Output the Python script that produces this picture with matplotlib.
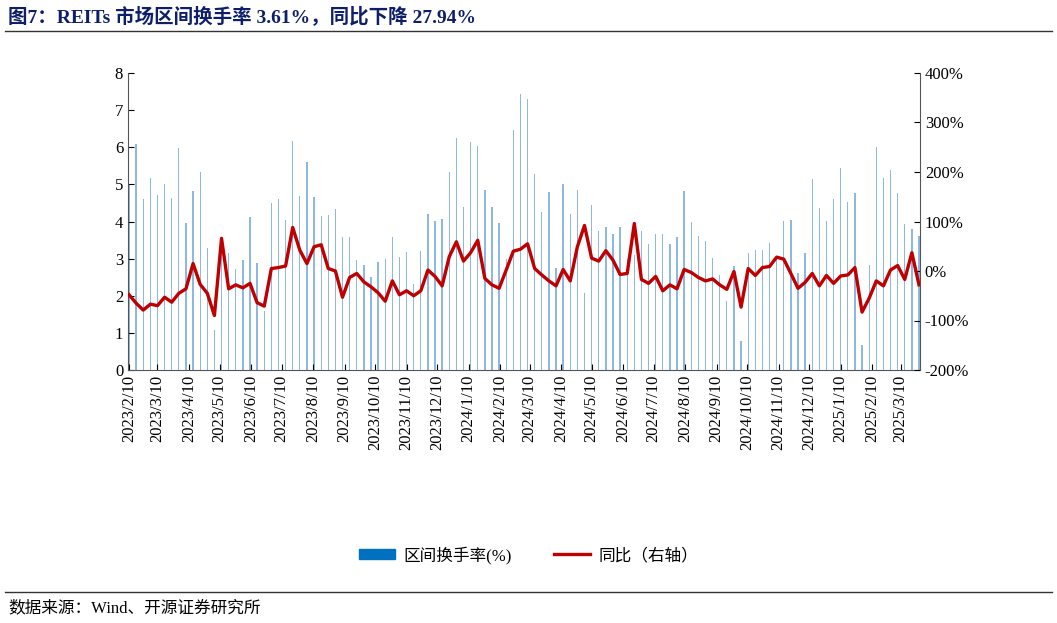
import numpy as np
import pandas as pd
import matplotlib
matplotlib.use("Agg")
import matplotlib.pyplot as plt
import matplotlib.patches as mpatches
from matplotlib.lines import Line2D
from matplotlib.ticker import FuncFormatter

plt.rcParams["font.family"] = ["Liberation Serif", "Noto Sans CJK SC"]

# ── Data (weekly, from 2023/2/10) ────────────────────────────────────────────
start_date = "2023-02-10"
turnover = [
    5.00, 6.08, 4.60, 5.16, 4.71, 5.00, 4.64, 5.99, 3.97, 4.82,
    5.33, 3.29, 1.08, 3.55, 3.14, 2.72, 2.96, 4.13, 2.89, 1.58,
    4.50, 4.60, 4.04, 6.18, 4.70, 5.59, 4.66, 4.16, 4.17, 4.35,
    3.58, 3.58, 2.95, 2.82, 2.50, 2.90, 2.99, 3.58, 3.04, 3.19,
    2.32, 3.20, 4.20, 4.01, 4.07, 5.34, 6.26, 4.38, 6.15, 6.03,
    4.85, 4.40, 3.97, 3.00, 6.47, 7.43, 7.30, 5.28, 4.25, 4.79,
    2.76, 5.01, 4.21, 4.85, 2.08, 4.44, 3.74, 3.85, 3.65, 3.84,
    3.00, 3.11, 3.74, 3.40, 3.65, 3.67, 3.39, 3.58, 4.82, 3.98,
    3.60, 3.47, 3.02, 2.57, 1.87, 2.80, 0.78, 3.16, 3.23, 3.24,
    3.43, 3.00, 4.01, 4.04, 2.60, 3.16, 5.14, 4.37, 4.01, 4.61,
    5.45, 4.52, 4.78, 0.66, 2.83, 6.01, 5.16, 5.39, 4.78, 3.93,
    3.80, 3.61,
]
yoy_pct = [
    -48, -65, -79, -67, -70, -53, -63, -45, -36, 15,
    -27, -45, -90, 66, -36, -28, -34, -25, -64, -71,
    5, 7, 10, 88, 42, 15, 49, 53, 5, 0,
    -53, -13, -5, -22, -32, -44, -61, -20, -48, -40,
    -50, -40, 2, -11, -30, 29, 59, 20, 37, 62,
    -15, -28, -35, 2, 40, 44, 55, 5, -8, -20,
    -30, 3, -20, 49, 92, 26, 20, 41, 22, -7,
    -5, 96, -17, -25, -11, -40, -28, -36, 3, -3,
    -13, -20, -16, -28, -37, -1, -73, 5, -9, 7,
    9, 28, 24, -5, -35, -23, -5, -30, -9, -25,
    -10, -8, 7, -83, -55, -20, -30, 2, 11, -17,
    37, -27.94,
]
dates = pd.date_range(start_date, periods=len(turnover), freq="7D")
tick_dates = pd.date_range("2023-02-01", "2025-03-01", freq="MS") + pd.Timedelta(days=9)

BAR_C = "#5B9BD5"
LINE_C = "#C00000"

fig = plt.figure(figsize=(10.57, 6.23), dpi=100)
ax = fig.add_axes([128 / 1057, 1 - 370 / 623, 792 / 1057, 297 / 623])
ax2 = ax.twinx()

ax.bar(dates, turnover, width=1.3, color=BAR_C, alpha=0.7, linewidth=0)
ax2.plot(dates, yoy_pct, color=LINE_C, linewidth=2.4)

ax.set_ylim(0, 8)
ax.set_yticks(range(0, 9))
ax2.set_ylim(-200, 400)
ax2.set_yticks(range(-200, 401, 100))
ax2.yaxis.set_major_formatter(FuncFormatter(lambda v, p: f"{int(v)}%"))
ax.set_xlim(dates[0] - pd.Timedelta(days=1), dates[-1] + pd.Timedelta(days=1))
ax.set_xticks(tick_dates)
ax.set_xticklabels([f"{d.year}/{d.month}/{d.day}" for d in tick_dates],
                   rotation=90, fontsize=12)
for a in (ax, ax2):
    a.spines["top"].set_visible(False)
    a.tick_params(labelsize=12, direction="in", length=4)
ax.spines["right"].set_visible(False)
for s in ("left", "bottom"):
    ax.spines[s].set_color("#555555")
ax2.spines["right"].set_color("#555555")
ax2.spines["left"].set_visible(False)
ax2.spines["bottom"].set_visible(False)

# Legend
handles = [mpatches.Patch(color="#0070C0", label="区间换手率(%)"),
           Line2D([0], [0], color=LINE_C, linewidth=2.4, label="同比（右轴）")]
fig.legend(handles=handles, loc="center", bbox_to_anchor=(0.5, 1 - 555 / 623),
           ncol=2, frameon=False, fontsize=12, handlelength=2.2, handleheight=0.6,
           handletextpad=0.5, columnspacing=2.5)

# Title and source
fig.text(8 / 1057, 1 - 16 / 623, "图7：REITs 市场区间换手率 3.61%，同比下降 27.94%",
         fontsize=14, fontweight="bold", color="#0D1F6B", va="center")
fig.add_artist(Line2D([5 / 1057, 1052 / 1057], [1 - 31 / 623] * 2, color="#333333", linewidth=1))
fig.add_artist(Line2D([5 / 1057, 1052 / 1057], [1 - 592 / 623] * 2, color="#333333", linewidth=1))
fig.text(8 / 1057, 1 - 608 / 623, "数据来源：Wind、开源证券研究所", fontsize=12, va="center")

fig.savefig("out.png", dpi=100)
